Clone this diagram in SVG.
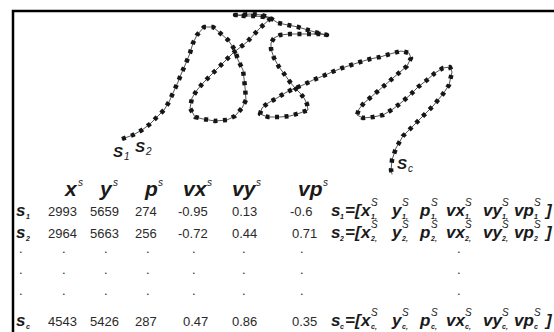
<svg xmlns="http://www.w3.org/2000/svg" width="554" height="332" viewBox="0 0 554 332">
<style>
text{font-family:"Liberation Sans",Arial,sans-serif}
.bi{font-style:italic;font-weight:bold;fill:#1a1a1a}
.h{font-size:21px}
.f{font-size:17px}
.hs{font-size:10px;font-style:italic;font-weight:normal}
.fs{font-size:10px;font-style:italic;font-weight:normal}
.sb{font-size:7px;font-style:italic;font-weight:bold}
.d{font-size:13px;fill:#2a2a2a}
.line{fill:none;stroke:#555;stroke-width:1;stroke-linejoin:round;stroke-linecap:round}
.dots{fill:none;stroke:#151515;stroke-width:4.5;stroke-dasharray:4 5.5;stroke-linejoin:round}
</style>
<defs>
<path id="trace" d="M122,139 L133,135 L142,130 L150,124 L157,117 L164,110 L169,102 L173,93 L178,82 L182,72 L186,63 L190,53 L193,43 L197,35 L204,27 L213,27 L220,33 L228,40 L235,50 L238,60 L243,70 L245,87 L246,100 L242,108 L235,116 L227,120 L215,121 L203,119 L195,117 L190,108 L192,98 L197,90 L204,82 L218,68 L233,53 L247,42 L260,28 L271,18 L262,15 L250,14 L240,15 L235,15 L245,16 L255,16 L265,17 L272,19 L278,23 L288,25 L298,27 L308,30 L318,33 L327,35 L320,34 L310,34 L300,34 L290,34 L280,35 L274,38 L271,43 L271,49 L274,58 L279,67 L285,75 L290,82 L295,88 L300,93 L304,98 L307,104 L308,110 L300,113 L290,116 L280,117 L268,117 L260,114 L262,108 L268,103 L277,98 L285,93 L293,89 L303,85 L313,80 L323,76 L332,72 L342,68 L351,65 L360,62 L370,59 L380,57 L390,54 L401,51 L409,53 L411,58 L407,66 L400,72 L393,78 L385,85 L378,91 L371,97 L364,103 L359,109 L357,115 L363,118 L373,117 L383,115 L393,109 L402,102 L410,95 L418,87 L427,80 L435,73 L443,68 L450,67 L452,72 L449,85 L443,94 L433,106 L422,117 L412,127 L403,136 L396,148 L392,160 L391,170 L392,174"/>
</defs>
<rect id="frame" x="13" y="11" width="600" height="400" fill="#fff" stroke="#000" stroke-width="2.5"/>
<g id="connectors">
<use href="#trace" class="line"/>
<use href="#trace" class="dots"/>
</g>
<g id="label-s1"><text class="bi" font-size="15" x="113" y="157">S<tspan font-size="10" font-weight="normal" x="124" y="160">1</tspan></text></g>
<g id="label-s2"><text class="bi" font-size="15" x="135" y="152">S<tspan font-size="10" font-weight="normal" x="146" y="155">2</tspan></text></g>
<g id="label-sc"><text class="bi" font-size="15" x="397" y="169">S<tspan font-size="10" font-weight="normal" x="408" y="172">c</tspan></text></g>
<g id="header">
<text class="bi h" x="65" y="196">x<tspan class="hs" x="78" y="186">s</tspan></text>
<text class="bi h" x="100" y="196">y<tspan class="hs" x="113" y="186">s</tspan></text>
<text class="bi h" x="145" y="196">p<tspan class="hs" x="158" y="186">s</tspan></text>
<text class="bi h" x="183" y="196">vx<tspan class="hs" x="207" y="186">s</tspan></text>
<text class="bi h" x="232" y="196">vy<tspan class="hs" x="256" y="186">s</tspan></text>
<text class="bi h" x="298" y="196">vp<tspan class="hs" x="323" y="186">s</tspan></text>
</g>
<g id="row-s1">
<text class="bi f" x="16" y="216">s<tspan class="sb" x="26" y="219">1</tspan></text>
<text class="d" y="216"><tspan x="48">2993</tspan><tspan x="90">5659</tspan><tspan x="135">274</tspan><tspan x="178">-0.95</tspan><tspan x="232">0.13</tspan><tspan x="290">-0.6</tspan></text>
<text class="bi f" y="216"><tspan x="331">s</tspan><tspan class="sb" x="340" y="219">1</tspan><tspan x="345" y="216">=[</tspan><tspan x="361">x</tspan><tspan class="fs" x="371" y="206">S</tspan><tspan class="sb" x="371" y="219">1,</tspan><tspan x="392" y="216">y</tspan><tspan class="fs" x="402" y="206">S</tspan><tspan class="sb" x="402" y="219">1,</tspan><tspan x="420" y="216">p</tspan><tspan class="fs" x="431" y="206">S</tspan><tspan class="sb" x="431" y="219">1,</tspan><tspan x="446" y="216">vx</tspan><tspan class="fs" x="465" y="206">S</tspan><tspan class="sb" x="465" y="219">1,</tspan><tspan x="483" y="216">vy</tspan><tspan class="fs" x="502" y="206">S</tspan><tspan class="sb" x="502" y="219">1,</tspan><tspan x="514" y="216">vp</tspan><tspan class="fs" x="534" y="206">S</tspan><tspan class="sb" x="534" y="219">1</tspan><tspan x="546" y="216">]</tspan></text>
</g>
<g id="row-s2">
<text class="bi f" x="16" y="238">s<tspan class="sb" x="26" y="241">2</tspan></text>
<text class="d" y="238"><tspan x="48">2964</tspan><tspan x="90">5663</tspan><tspan x="135">256</tspan><tspan x="178">-0.72</tspan><tspan x="232">0.44</tspan><tspan x="292">0.71</tspan></text>
<text class="bi f" y="238"><tspan x="331">s</tspan><tspan class="sb" x="340" y="241">2</tspan><tspan x="345" y="238">=[</tspan><tspan x="361">x</tspan><tspan class="fs" x="371" y="228">S</tspan><tspan class="sb" x="371" y="241">2,</tspan><tspan x="392" y="238">y</tspan><tspan class="fs" x="402" y="228">S</tspan><tspan class="sb" x="402" y="241">2,</tspan><tspan x="420" y="238">p</tspan><tspan class="fs" x="431" y="228">S</tspan><tspan class="sb" x="431" y="241">2,</tspan><tspan x="446" y="238">vx</tspan><tspan class="fs" x="465" y="228">S</tspan><tspan class="sb" x="465" y="241">2,</tspan><tspan x="483" y="238">vy</tspan><tspan class="fs" x="502" y="228">S</tspan><tspan class="sb" x="502" y="241">2,</tspan><tspan x="514" y="238">vp</tspan><tspan class="fs" x="534" y="228">S</tspan><tspan class="sb" x="534" y="241">2</tspan><tspan x="546" y="238">]</tspan></text>
</g>
<g id="row-dots">
<text class="d"><tspan x="19" y="253">.</tspan><tspan x="62" y="253">.</tspan><tspan x="104" y="253">.</tspan><tspan x="146" y="253">.</tspan><tspan x="192" y="253">.</tspan><tspan x="242" y="253">.</tspan><tspan x="300" y="253">.</tspan><tspan x="457" y="253">.</tspan></text>
<text class="d"><tspan x="19" y="274">.</tspan><tspan x="62" y="274">.</tspan><tspan x="104" y="274">.</tspan><tspan x="146" y="274">.</tspan><tspan x="192" y="274">.</tspan><tspan x="242" y="274">.</tspan><tspan x="300" y="274">.</tspan><tspan x="457" y="274">.</tspan></text>
<text class="d"><tspan x="19" y="295">.</tspan><tspan x="62" y="295">.</tspan><tspan x="104" y="295">.</tspan><tspan x="146" y="295">.</tspan><tspan x="192" y="295">.</tspan><tspan x="242" y="295">.</tspan><tspan x="300" y="295">.</tspan><tspan x="457" y="295">.</tspan></text>
</g>
<g id="row-sc">
<text class="bi f" x="16" y="326">s<tspan class="sb" x="26" y="329">c</tspan></text>
<text class="d" y="326"><tspan x="48">4543</tspan><tspan x="90">5426</tspan><tspan x="135">287</tspan><tspan x="183">0.47</tspan><tspan x="232">0.86</tspan><tspan x="292">0.35</tspan></text>
<text class="bi f" y="326"><tspan x="331">s</tspan><tspan class="sb" x="340" y="329">c</tspan><tspan x="345" y="326">=[</tspan><tspan x="361">x</tspan><tspan class="fs" x="371" y="316">S</tspan><tspan class="sb" x="371" y="329">c,</tspan><tspan x="392" y="326">y</tspan><tspan class="fs" x="402" y="316">S</tspan><tspan class="sb" x="402" y="329">c,</tspan><tspan x="420" y="326">p</tspan><tspan class="fs" x="431" y="316">S</tspan><tspan class="sb" x="431" y="329">c,</tspan><tspan x="446" y="326">vx</tspan><tspan class="fs" x="465" y="316">S</tspan><tspan class="sb" x="465" y="329">c,</tspan><tspan x="483" y="326">vy</tspan><tspan class="fs" x="502" y="316">S</tspan><tspan class="sb" x="502" y="329">c,</tspan><tspan x="514" y="326">vp</tspan><tspan class="fs" x="534" y="316">S</tspan><tspan class="sb" x="534" y="329">c</tspan><tspan x="546" y="326">]</tspan></text>
</g>
</svg>
